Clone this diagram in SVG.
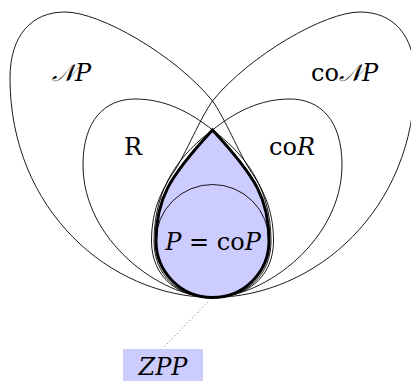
<svg xmlns="http://www.w3.org/2000/svg" xmlns:xlink="http://www.w3.org/1999/xlink" width="411" height="381" viewBox="0 0 411 381">
<style>
.loop{fill:none;stroke:#000;stroke-width:0.9}
text{font-family:"DejaVu Serif","Liberation Serif",serif;font-size:24px;fill:#000}
.it{font-style:italic}
</style>
<defs>
<path id="np-path" d="M212.5,297.5 C110,297 10,210 10,78 C10,35 32,12 65,12 C100,12 175,55 212.3,100.7 C224,116.5 240,155 250,170 C262,188 273.5,208 273.5,241 C273.5,277 247,297.5 212.5,297.5 Z"/>
<path id="r-path" d="M212.5,297.5 C160,297 83,240 83,165 C83,120 105,99 135,99 C165,99 190,112 212.5,130 C242,152 271,185 271,241 C271,276 246,297.5 212.5,297.5 Z"/>
</defs>
<g id="connectors">
<line x1="208" y1="302" x2="163" y2="348" stroke="#555" stroke-width="0.9" stroke-dasharray="1 2.6"/>
</g>
<g id="NP">
<use xlink:href="#np-path" class="loop"/>
<text x="52" y="81"><tspan class="it">𝒩</tspan><tspan class="it">P</tspan></text>
</g>
<g id="coNP">
<use xlink:href="#np-path" class="loop" transform="translate(425,0) scale(-1,1)"/>
<text x="311" y="81">co<tspan class="it">𝒩</tspan><tspan class="it">P</tspan></text>
</g>
<g id="R">
<use xlink:href="#r-path" class="loop"/>
<text x="133" y="155" text-anchor="middle">R</text>
</g>
<g id="coR">
<use xlink:href="#r-path" class="loop" transform="translate(425,0) scale(-1,1)"/>
<text x="292" y="155" text-anchor="middle">co<tspan class="it">R</tspan></text>
</g>
<g id="P">
<path d="M212.5,130 C168,178 156,200 156,241 A56.5,56.5 0 0 0 269,241 C269,200 257,178 212.5,130 Z" fill="#ccccff" stroke="#000" stroke-width="3"/>
<circle cx="212.5" cy="241" r="56.5" fill="none" stroke="#000" stroke-width="0.9"/>
<text x="213" y="250" text-anchor="middle"><tspan class="it">P</tspan> = co<tspan class="it">P</tspan></text>
</g>
<g id="ZPP">
<rect x="123" y="349" width="80" height="32" fill="#ccccff"/>
<text class="it" x="163" y="375" text-anchor="middle">ZPP</text>
</g>
</svg>
